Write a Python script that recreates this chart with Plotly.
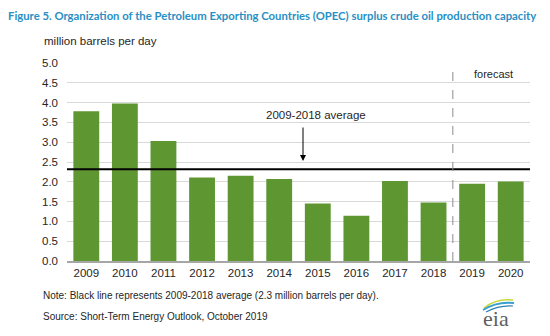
import plotly.graph_objects as go

years = ["2009", "2010", "2011", "2012", "2013", "2014", "2015", "2016", "2017", "2018", "2019", "2020"]
surplus = [3.78, 3.98, 3.03, 2.11, 2.15, 2.07, 1.45, 1.14, 2.02, 1.48, 1.95, 2.01]
average_2009_2018 = 2.32
y_ticks = [0.0, 0.5, 1.0, 1.5, 2.0, 2.5, 3.0, 3.5, 4.0, 4.5, 5.0]

W, H = 550, 336
L, R, T, B = 67, 20, 63, 75
PW, PH = W - L - R, H - T - B


def px(x):
    return (x - L) / PW


def py(y):
    return 1 - (y - T) / PH


GREEN = "#5e9732"
TXT = "#262626"
FONT = "Liberation Sans"

fig = go.Figure()
fig.add_trace(go.Bar(x=years, y=surplus, marker=dict(color=GREEN, line=dict(width=0)),
                     hoverinfo="x+y"))

fig.update_layout(
    width=W, height=H,
    margin=dict(l=L, r=R, t=T, b=B),
    paper_bgcolor="white", plot_bgcolor="white",
    bargap=0.33,
    showlegend=False,
    font=dict(family=FONT, size=11, color=TXT),
    xaxis=dict(type="category", showgrid=False, showline=True, linecolor="#a6a6a6",
               linewidth=2, ticks="", tickfont=dict(size=11.5, color=TXT), ticklen=0),
    yaxis=dict(range=[0, 5], tickvals=y_ticks, tickformat=".1f", showgrid=True,
               gridcolor="#d9d9d9", gridwidth=1, zeroline=False, showline=False,
               ticks="", ticklabelstandoff=8, tickfont=dict(size=11.5, color=TXT)),
)

# 2009-2018 average line
fig.add_shape(type="line", xref="paper", yref="y", x0=0, x1=1,
              y0=average_2009_2018, y1=average_2009_2018,
              line=dict(color="black", width=2))

# forecast divider
fig.add_shape(type="line", xref="x", yref="paper", x0=9.5, x1=9.5, y0=0, y1=1,
              line=dict(color="#8c8c8c", width=1, dash="dash"))

annotations = [
    dict(text="Figure 5. Organization of the Petroleum Exporting Countries (OPEC) surplus crude oil production capacity",
         x=px(6), y=py(15), xanchor="left", yanchor="middle",
         font=dict(family="Lato", size=11.3, color="#2a8fc4", weight="bold")),
    dict(text="million barrels per day", x=px(42), y=py(41), xanchor="left", yanchor="middle",
         font=dict(size=11.5, color=TXT)),
    dict(text="forecast", x=px(493), y=py(74), xanchor="center", yanchor="middle",
         font=dict(size=11, color=TXT)),
    dict(text="2009-2018 average", x=px(316), y=py(115), xanchor="center", yanchor="middle",
         font=dict(size=11.5, color=TXT)),
    dict(text="Note: Black line represents 2009-2018 average (2.3 million barrels per day).",
         x=px(41), y=py(295), xanchor="left", yanchor="middle",
         font=dict(size=10, color=TXT)),
    dict(text="Source: Short-Term Energy Outlook, October 2019",
         x=px(41), y=py(316), xanchor="left", yanchor="middle",
         font=dict(size=10, color=TXT)),
    dict(text="eia", x=px(496), y=py(318), xanchor="center", yanchor="middle",
         font=dict(family="Liberation Serif", size=22, color="#5f5f5f")),
]
for a in annotations:
    a.update(xref="paper", yref="paper", showarrow=False)
    fig.add_annotation(**a)

# arrow pointing to the average line
fig.add_annotation(xref="paper", yref="paper", x=px(303), y=py(161), ax=0, ay=-35,
                   axref="pixel", ayref="pixel", text="", showarrow=True,
                   arrowhead=2, arrowsize=1.2, arrowwidth=1, arrowcolor="black")

# logo swoosh above "eia"
for d, c, w in [
    ("M 484 308 Q 496 298 513 300", "#c8d83a", 1.5),
    ("M 483 310 Q 497 301 514 303", "#3aa0d0", 2),
    ("M 486 312 Q 499 305 513 306", "#2f7fb0", 1.2),
]:
    xs = [float(v) for v in d.replace("M", "").replace("Q", "").split()]
    path = "M {} {} Q {} {} {} {}".format(px(xs[0]), py(xs[1]), px(xs[2]), py(xs[3]), px(xs[4]), py(xs[5]))
    fig.add_shape(type="path", xref="paper", yref="paper", path=path,
                  line=dict(color=c, width=w))

fig.write_html("out.html")
